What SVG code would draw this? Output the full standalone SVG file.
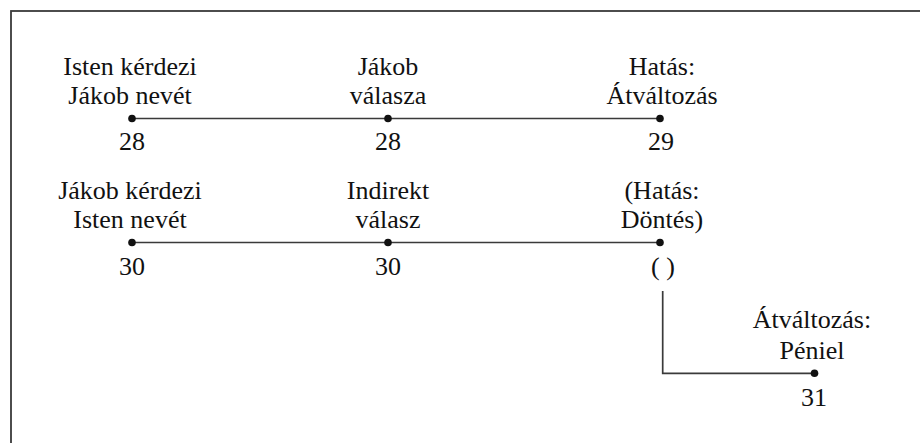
<svg xmlns="http://www.w3.org/2000/svg" width="920" height="443" viewBox="0 0 920 443">
<style>
.ln{stroke:#3a3a3a;stroke-width:1.7;fill:none}
.dot{fill:#111}
</style>
<rect x="0" y="0" width="920" height="443" fill="#fff"/>
<rect x="11" y="11" width="940" height="460" fill="none" stroke="#3a3a3a" stroke-width="1.8"/>
<g id="connectors">
<line class="ln" x1="132" y1="118.5" x2="660" y2="118.5"/>
<line class="ln" x1="132" y1="242.5" x2="660" y2="242.5"/>
<polyline class="ln" points="662.7,291 662.7,373.3 814.5,373.3"/>
</g>
<g font-family="Liberation Serif, Times New Roman, Times, serif" font-size="26" fill="#111" text-anchor="middle">
<g id="n1"><circle class="dot" cx="132" cy="118.5" r="3.8"/><text x="130" y="75">Isten kérdezi</text><text x="130" y="104">Jákob nevét</text><text x="132" y="150">28</text></g>
<g id="n2"><circle class="dot" cx="388" cy="118.5" r="3.8"/><text x="388" y="75">Jákob</text><text x="388" y="104">válasza</text><text x="388" y="150">28</text></g>
<g id="n3"><circle class="dot" cx="660" cy="118.5" r="3.8"/><text x="662" y="75">Hatás:</text><text x="662" y="104">Átváltozás</text><text x="661" y="150">29</text></g>
<g id="n4"><circle class="dot" cx="132" cy="242.5" r="3.8"/><text x="130" y="199">Jákob kérdezi</text><text x="130" y="228">Isten nevét</text><text x="132" y="275">30</text></g>
<g id="n5"><circle class="dot" cx="388" cy="242.5" r="3.8"/><text x="388" y="199">Indirekt</text><text x="388" y="228">válasz</text><text x="388" y="275">30</text></g>
<g id="n6"><circle class="dot" cx="660" cy="242.5" r="3.8"/><text x="662" y="199">(Hatás:</text><text x="662" y="228">Döntés)</text><text x="663" y="275">( )</text></g>
<g id="n7"><circle class="dot" cx="814.5" cy="373.3" r="3.8"/><text x="812" y="328">Átváltozás:</text><text x="812" y="359">Péniel</text><text x="814" y="406">31</text></g>
</g>
</svg>
